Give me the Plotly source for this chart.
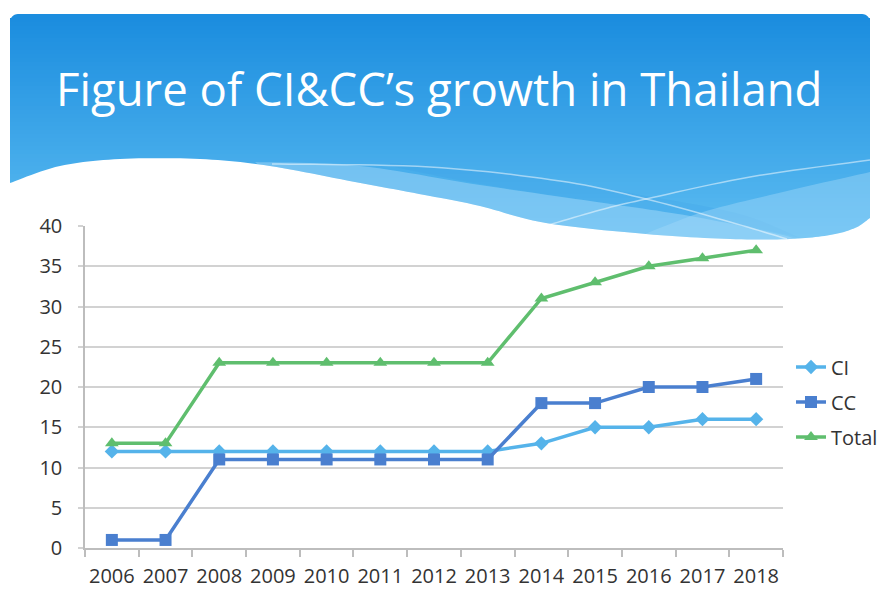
import plotly.graph_objects as go
import numpy as np

years = ["2006", "2007", "2008", "2009", "2010", "2011", "2012", "2013", "2014", "2015", "2016", "2017", "2018"]
ci = [12, 12, 12, 12, 12, 12, 12, 12, 13, 15, 15, 16, 16]
cc = [1, 1, 11, 11, 11, 11, 11, 11, 18, 18, 20, 20, 21]
total = [13, 13, 23, 23, 23, 23, 23, 23, 31, 33, 35, 36, 37]
y_ticks = [0, 5, 10, 15, 20, 25, 30, 35, 40]

W, H = 880, 590
FONT = "Open Sans"


def px(x):
    return x / W


def py(y):
    return 1 - y / H


def spline(pts, n=12):
    pts = np.array(pts, dtype=float)
    P = np.vstack([pts[0], pts, pts[-1]])
    out = []
    for i in range(1, len(P) - 2):
        p0, p1, p2, p3 = P[i - 1], P[i], P[i + 1], P[i + 2]
        for t in np.linspace(0, 1, n, endpoint=False):
            t2, t3 = t * t, t * t * t
            v = 0.5 * ((2 * p1) + (-p0 + p2) * t + (2 * p0 - 5 * p1 + 4 * p2 - p3) * t2 + (-p0 + 3 * p1 - 3 * p2 + p3) * t3)
            out.append((float(v[0]), float(v[1])))
    out.append((float(P[-2][0]), float(P[-2][1])))
    return out


def to_path(points, close=False):
    s = "M " + " L ".join(f"{px(x):.5f},{py(y):.5f}" for x, y in points)
    if close:
        s += " Z"
    return s


shapes = []

# gradient header bands
top, bottom = 14, 246
left, right = 10, 870
c_top = np.array([0x1b, 0x8d, 0xdf])
c_bot = np.array([0x5e, 0xbe, 0xf2])
n_b = 58
edges = np.linspace(top, bottom, n_b + 1)
for i in range(n_b):
    f = i / (n_b - 1)
    c = (c_top * (1 - f) + c_bot * f).astype(int)
    col = f"rgb({c[0]},{c[1]},{c[2]})"
    y0, y1 = edges[i], edges[i + 1] + 0.6
    if i == 0:
        r = 8
        pts = [(left, y1)]
        for a in np.linspace(np.pi, 1.5 * np.pi, 8):
            pts.append((left + r + r * np.cos(a), top + r + r * np.sin(a)))
        for a in np.linspace(1.5 * np.pi, 2 * np.pi, 8):
            pts.append((right - r + r * np.cos(a), top + r + r * np.sin(a)))
        pts.append((right, y1))
        shapes.append(dict(type="path", path=to_path(pts, True), xref="paper", yref="paper",
                           fillcolor=col, line=dict(width=0), layer="below"))
    else:
        shapes.append(dict(type="rect", x0=px(left), x1=px(right), y0=py(y1), y1=py(y0),
                           xref="paper", yref="paper", fillcolor=col, line=dict(width=0), layer="below"))

# white wave boundary
wave = [(10, 183), (60, 166), (120, 159), (200, 159), (270, 166), (355, 182), (430, 196),
        (480, 206), (546, 223), (646, 234), (730, 239), (790, 239), (830, 235), (855, 228), (870, 218)]
wave_pts = spline(wave)

# subtle darker band
dark_up = spline([(390, 163), (520, 175), (646, 196), (740, 214), (800, 238)])
dark_lo = spline([(390, 166), (480, 184), (604, 203), (690, 216), (770, 231), (800, 238)])
shapes.append(dict(type="path", path=to_path(dark_up + dark_lo[::-1], True), xref="paper", yref="paper",
                   fillcolor="rgba(40,140,220,0.12)", line=dict(width=0), layer="below"))

# lighter band L1 (left)
l1_up = spline([(255, 162), (360, 166), (480, 185), (604, 203), (690, 216), (770, 232), (800, 240)])
l1_lo = [p for p in wave_pts if 255 <= p[0] <= 800]
shapes.append(dict(type="path", path=to_path(l1_up + l1_lo[::-1], True), xref="paper", yref="paper",
                   fillcolor="rgba(160,214,248,0.5)", line=dict(width=0), layer="below"))

# lighter band L2 (right)
l2_up = spline([(640, 236), (700, 213), (770, 195), (870, 172)])
l2_lo = [p for p in wave_pts if 640 <= p[0] <= 870]
shapes.append(dict(type="path", path=to_path(l2_up + l2_lo[::-1], True), xref="paper", yref="paper",
                   fillcolor="rgba(160,214,248,0.45)", line=dict(width=0), layer="below"))

# white cover below the wave
cover = [(0, 183)] + list(wave_pts) + [(880, 218), (880, 252), (0, 252)]
shapes.append(dict(type="path", path=to_path(cover, True), xref="paper", yref="paper",
                   fillcolor="white", line=dict(width=0), layer="below"))

# thin translucent white streaks
lineA = spline([(272, 164), (430, 167), (560, 181), (646, 199), (730, 222), (787, 239)])
lineB = spline([(542, 227), (600, 210), (646, 199), (750, 177), (870, 160)])
for ln in (lineA, lineB):
    shapes.append(dict(type="path", path=to_path(ln), xref="paper", yref="paper",
                       line=dict(color="rgba(255,255,255,0.5)", width=1.5), layer="below"))

fig = go.Figure()
fig.add_trace(go.Scatter(x=years, y=ci, name="CI", mode="lines+markers",
                         line=dict(color="#55b3ea", width=3.5),
                         marker=dict(symbol="diamond", size=11, color="#55b3ea"),
                         legend="legend"))
fig.add_trace(go.Scatter(x=years, y=cc, name="CC", mode="lines+markers",
                         line=dict(color="#4a7fcf", width=3.5),
                         marker=dict(symbol="square", size=12, color="#4a7fcf"),
                         legend="legend2"))
fig.add_trace(go.Scatter(x=years, y=total, name="Total", mode="lines+markers",
                         line=dict(color="#5fbe6e", width=3.5),
                         marker=dict(symbol="triangle-up", size=12, color="#5fbe6e"),
                         legend="legend3"))

leg_common = dict(font=dict(family=FONT, size=20, color="#333333"), bgcolor="rgba(0,0,0,0)",
                  xanchor="left", yanchor="middle", x=px(791))

fig.update_layout(
    width=W, height=H,
    margin=dict(l=0, r=0, t=0, b=0, autoexpand=False),
    paper_bgcolor="white", plot_bgcolor="white",
    shapes=shapes,
    showlegend=True,
    legend=dict(**leg_common, y=py(367)),
    legend2=dict(**leg_common, y=py(402)),
    legend3=dict(**leg_common, y=py(437)),
    annotations=[dict(text="Figure of CI&CC’s growth in Thailand", x=px(439), y=py(88),
                      xref="paper", yref="paper", showarrow=False, xanchor="center", yanchor="middle",
                      font=dict(family=FONT, size=45.5, color="white"))],
    xaxis=dict(domain=[px(85), px(783)], type="category", range=[-0.5, 12.5],
               showgrid=False, showline=True, linecolor="#bdbdbd", linewidth=1.5,
               ticks="outside", tickson="boundaries", ticklen=7, tickcolor="#bdbdbd", tickwidth=1.5,
               tickfont=dict(family=FONT, size=20, color="#333333"), ticklabelstandoff=9,
               tickangle=0, automargin=False, fixedrange=True),
    yaxis=dict(domain=[py(548), py(226)], range=[0, 40], tickvals=y_ticks,
               showgrid=True, gridcolor="#d2d2d2", gridwidth=1.5,
               showline=True, linecolor="#bdbdbd", linewidth=1.5,
               ticks="outside", ticklen=5, tickcolor="#d2d2d2", tickwidth=1.5,
               tickfont=dict(family=FONT, size=20, color="#333333"), ticklabelstandoff=12,
               zeroline=False, automargin=False, fixedrange=True),
)

fig.write_html("out.html")
